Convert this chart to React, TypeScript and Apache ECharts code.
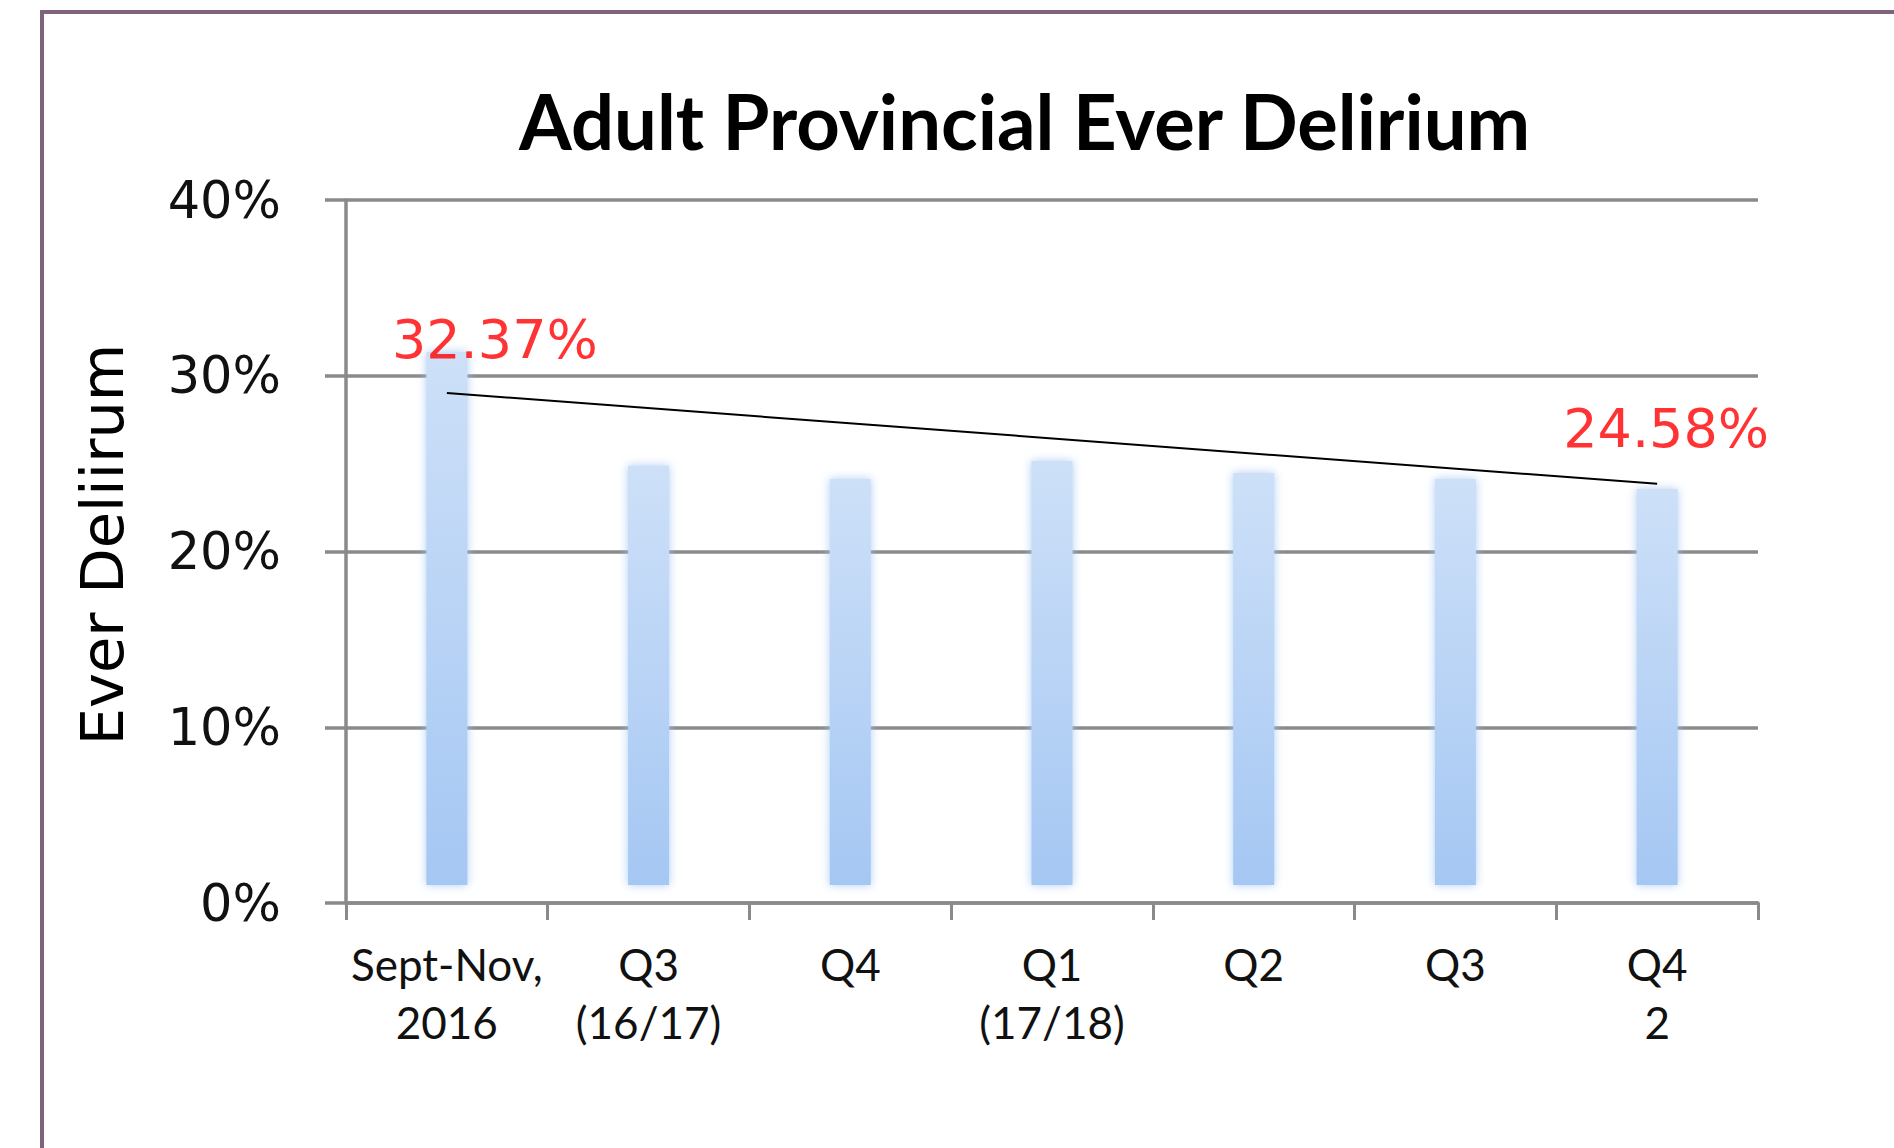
import React, { useEffect, useRef } from "react";
import * as echarts from "echarts";

const categories = ["Sept-Nov,\n2016", "Q3\n(16/17)", "Q4", "Q1\n(17/18)", "Q2", "Q3", "Q4\n2"];
const values = [32.37, 25.9, 25.15, 26.17, 25.49, 25.15, 24.58];
// linear trendline as drawn in the picture: value at first and last category
const trendStartEnd = [29.02, 23.85];
const yTickValues = [0, 10, 20, 30, 40];
const labelledIndices = [0, 6];

const titleText = "Adult Provincial Ever Delirium";
const yAxisName = "Ever Deliirum";

export default function App() {
  const ref = useRef<HTMLDivElement>(null);

  useEffect(() => {
    if (!ref.current) return;
    const chart = echarts.init(ref.current, null, { renderer: "svg" });

    const labelOffsets: Record<number, number[]> = { 0: [48, 5], 6: [9, -43] };

    const trendData = categories.map((_, i) =>
      i === 0 ? trendStartEnd[0] : i === categories.length - 1 ? trendStartEnd[1] : null
    );

    const option: any = {
      animation: false,
      backgroundColor: "#ffffff",
      title: {
        text: titleText,
        left: 519,
        top: 82,
        padding: 0,
        textStyle: {
          fontFamily: "Lato",
          fontWeight: "bold",
          fontSize: 76,
          color: "#000000",
        },
      },
      graphic: [
        {
          type: "rect",
          x: 42,
          y: 12,
          shape: { x: 0, y: 0, width: 1900, height: 1200 },
          style: { fill: "none", stroke: "#80637a", lineWidth: 4 },
          silent: true,
          z: -10,
        },
      ],
      grid: { left: 346, right: 136, top: 200, bottom: 245, containLabel: false },
      xAxis: {
        type: "category",
        data: categories,
        boundaryGap: true,
        axisLine: { show: true, lineStyle: { color: "#8a8a8a", width: 3.5 } },
        axisTick: { show: true, interval: 0, length: 17, lineStyle: { color: "#8a8a8a", width: 3 } },
        axisLabel: {
          interval: 0,
          margin: 32,
          fontFamily: "Lato",
          fontSize: 44,
          lineHeight: 58,
          color: "#111111",
        },
        splitLine: { show: false },
      },
      yAxis: {
        type: "value",
        min: yTickValues[0],
        max: yTickValues[yTickValues.length - 1],
        interval: 10,
        name: yAxisName,
        nameLocation: "middle",
        nameGap: 214,
        nameTextStyle: {
          fontFamily: "DejaVu Sans",
          fontSize: 59,
          color: "#000000",
          padding: [0, 0, 0, 14],
        },
        axisLine: { show: true, lineStyle: { color: "#8a8a8a", width: 3.5 } },
        axisTick: { show: true, length: 21, lineStyle: { color: "#8a8a8a", width: 3.5 } },
        axisLabel: {
          margin: 65,
          formatter: "{value}%",
          fontFamily: "DejaVu Sans",
          fontSize: 51,
          color: "#111111",
        },
        splitLine: { show: true, lineStyle: { color: "#8a8a8a", width: 3.5 } },
      },
      series: [
        {
          type: "custom",
          name: "Ever Delirium",
          data: values.map((v, i) => [i, v]),
          encode: { x: 0, y: 1 },
          z: 2,
          renderItem: (params: any, api: any) => {
            const i = api.value(0);
            const v = api.value(1);
            const topPt = api.coord([i, v]);
            const basePt = api.coord([i, 0]);
            const w = 41;
            const inset = 18;
            return {
              type: "rect",
              shape: {
                x: topPt[0] - w / 2,
                y: topPt[1] + inset,
                width: w,
                height: basePt[1] - topPt[1] - 2 * inset,
              },
              style: {
                fill: new echarts.graphic.LinearGradient(0, 0, 0, 1, [
                  { offset: 0, color: "#cde0f8" },
                  { offset: 1, color: "#a5c7f3" },
                ]),
                shadowBlur: 10,
                shadowColor: "rgba(165,199,243,0.9)",
              },
            };
          },
        },
        {
          type: "line",
          name: "Trend",
          data: trendData,
          connectNulls: true,
          symbol: "none",
          z: 5,
          lineStyle: { color: "#000000", width: 2 },
        },
        {
          type: "scatter",
          name: "Labels",
          symbolSize: 0,
          z: 6,
          data: labelledIndices.map((i) => ({
            value: [i, values[i]],
            label: { offset: labelOffsets[i] },
          })),
          label: {
            show: true,
            position: "inside",
            align: "center",
            verticalAlign: "middle",
            formatter: (p: any) => p.value[1].toFixed(2) + "%",
            color: "#ff0000",
            fontFamily: "DejaVu Sans",
            fontSize: 54,
          },
        },
      ],
    };

    chart.setOption(option);
    return () => chart.dispose();
  }, []);

  return (
    <div
      ref={ref}
      style={{ position: "fixed", left: 0, top: 0, width: 1894, height: 1148, background: "#ffffff" }}
    />
  );
}
